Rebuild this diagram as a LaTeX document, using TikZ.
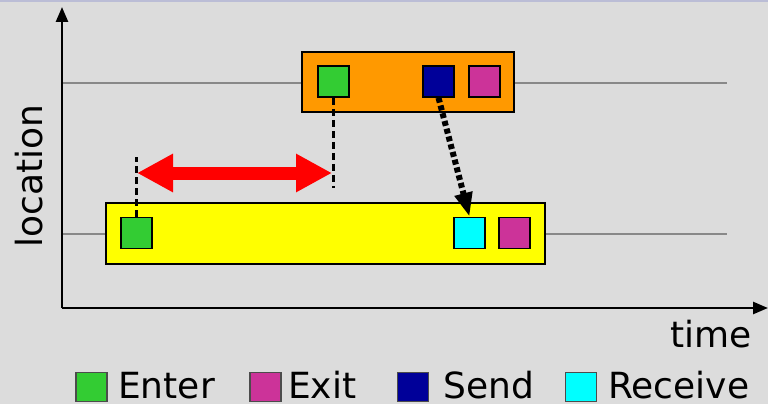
\documentclass[tikz,border=0pt]{standalone}
\usepackage{fontspec}
\setmainfont{DejaVu Sans}
\usetikzlibrary{arrows.meta}
\definecolor{bgc}{HTML}{DCDCDC}
\definecolor{topc}{HTML}{BBBDD6}
\definecolor{gridc}{HTML}{888888}
\definecolor{entc}{HTML}{33CC33}
\definecolor{exc}{HTML}{CC3399}
\definecolor{sndc}{HTML}{000099}
\definecolor{rcvc}{HTML}{00FFFF}
\definecolor{orc}{HTML}{FF9900}
\definecolor{yelc}{HTML}{FFFF00}
\tikzset{
  region/.style={draw=black, line width=1.8pt, inner sep=0pt},
  ev/.style={draw=black, line width=1.5pt, minimum width=31pt, minimum height=31pt, inner sep=0pt},
  legsq/.style={draw=black!70, line width=1.5pt, minimum width=31pt, minimum height=29pt, inner sep=0pt},
  lbl/.style={font=\fontsize{36}{40}\selectfont, inner sep=0pt},
  leglbl/.style={lbl, text depth=0pt, anchor=base west},
  axis/.style={line width=2.5pt, -{Triangle[length=15pt,width=12pt]}},
  guide/.style={line width=2.2pt, dash pattern=on 7pt off 4pt},
}
\begin{document}
\begin{tikzpicture}[x=1pt,y=-1pt]
  % canvas
  \fill[bgc] (0,0) rectangle (768,404);
  \fill[topc] (0,0) rectangle (768,2.5);
  \useasboundingbox (0,0) rectangle (768,404);

  % process lines
  \draw[gridc, line width=2pt] (62,83) -- (727,83);
  \draw[gridc, line width=2pt] (62,234) -- (727,234);

  % regions
  \node[region, fill=orc, minimum width=212pt, minimum height=60pt] (r1) at (408,82) {};
  \node[region, fill=yelc, minimum width=439pt, minimum height=61pt] (r0) at (325.5,233.5) {};

  % events, upper process
  \node[ev, fill=entc] (e1) at (333.5,81.5) {};
  \node[ev, fill=sndc] (s1) at (438.5,81.5) {};
  \node[ev, fill=exc]  (x1) at (484.5,81.5) {};

  % events, lower process
  \node[ev, fill=entc] (e0) at (136.5,233) {};
  \node[ev, fill=rcvc] (v0) at (469.5,233) {};
  \node[ev, fill=exc]  (x0) at (514.5,233) {};

  % guide lines and interval arrow
  \coordinate (g0) at (136.5,157);
  \coordinate (g1) at (333.5,188);
  \draw[guide] (e0.north) -- (g0);
  \draw[guide] (e1.south) -- (g1);
  \coordinate (a0) at (137,173);
  \coordinate (a1) at (332,173);
  \draw[red, line width=13pt, {Triangle[length=36pt,width=36pt]}-{Triangle[length=36pt,width=36pt]}] (a0) -- (a1);

  % message
  \draw[line width=6pt, dash pattern=on 5pt off 3pt, -{Triangle[length=24pt,width=17pt]}] (s1.south) -- (v0.north);

  % axes
  \coordinate (o) at (62,308);
  \coordinate (ytop) at (62,7);
  \coordinate (xend) at (768,308);
  \draw[axis] (o) -- (ytop);
  \draw[axis] (o) -- (xend);
  \node[lbl, anchor=base east] (tl) at (752,347) {time};
  \node[lbl, anchor=base, rotate=90] (ll) at (42,176) {location};

  % legend
  \node[legsq, fill=entc] (k1) at (91.5,387) {};
  \node[leglbl] (t1) at (118,398) {Enter};
  \node[legsq, fill=exc] (k2) at (265.5,387) {};
  \node[leglbl] (t2) at (288,398) {Exit};
  \node[legsq, fill=sndc] (k3) at (413,387) {};
  \node[leglbl] (t3) at (443,398) {Send};
  \node[legsq, fill=rcvc] (k4) at (581,387) {};
  \node[leglbl] (t4) at (608,398) {Receive};
\end{tikzpicture}
\end{document}
